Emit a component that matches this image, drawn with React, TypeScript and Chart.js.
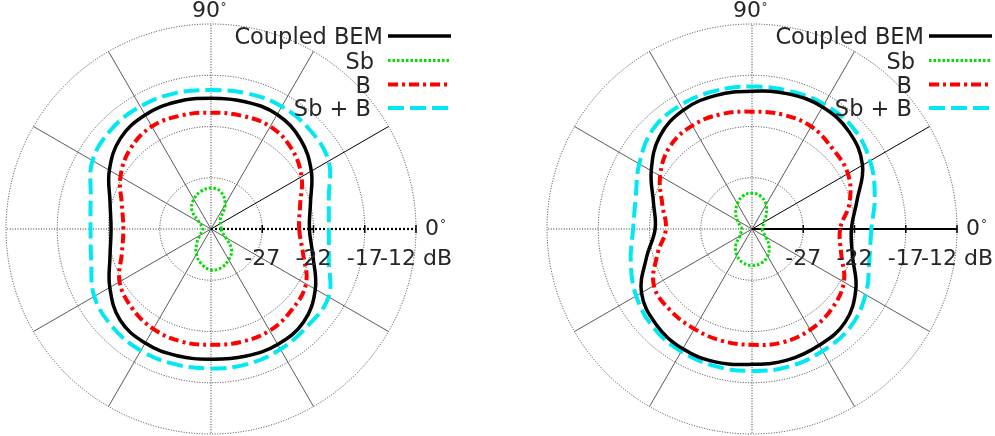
import React, { useEffect, useRef } from 'react';
import { Chart, registerables } from 'chart.js';

Chart.register(...registerables);

// Direction of each sample, degrees counter-clockwise from the 0° axis
const ANGLES = [0, 15, 30, 45, 60, 75, 90, 105, 120, 135, 150, 165, 180, 195, 210, 225, 240, 255, 270, 285, 300, 315, 330, 345];

// Radial axis (dB)
const R_MIN = -32;
const R_MAX = -12;
const R_STEP = 5;
const TICK_VALUES = [-27, -22, -17, -12];
const TICK_LABELS = ['-27', '-22', '-17', '-12 dB'];

const SERIES_NAMES = ['Coupled BEM', 'Sb', 'B', 'Sb + B'];

// Left plot
const LEFT_BEM = [-22.4, -21.95, -20.7, -19.65, -19.1, -19.15, -19.25, -19.15, -19.15, -19.5, -20.55, -21.8, -22.25, -21.8, -20.6, -19.45, -19.15, -19.2, -19.3, -19.15, -19.0, -19.2, -20.25, -21.7];
const LEFT_SB = [-31.0, -31.0, -30.95, -30.75, -29.25, -28.25, -28.0, -28.2, -28.65, -29.35, -30.65, -31.1, -31.2, -31.1, -30.75, -30.05, -29.15, -28.45, -28.0, -28.1, -28.55, -29.15, -30.35, -30.9];
const LEFT_B = [-23.4, -23.0, -21.8, -20.9, -20.45, -20.55, -20.65, -20.55, -20.45, -20.9, -21.8, -23.0, -23.45, -23.0, -21.7, -21.1, -20.75, -20.65, -20.7, -20.6, -20.55, -20.85, -21.3, -22.7];
const LEFT_SB_B = [-20.5, -20.1, -18.75, -18.35, -18.2, -18.3, -18.45, -18.3, -18.2, -18.25, -18.65, -19.85, -20.25, -19.9, -18.85, -18.45, -18.3, -18.35, -18.4, -18.35, -18.45, -18.65, -18.75, -20.1];

// Right plot
const RIGHT_BEM = [-22.3, -21.4, -19.55, -18.6, -18.25, -18.35, -18.55, -18.5, -18.6, -19.25, -20.65, -22.05, -22.55, -21.35, -19.55, -18.8, -18.5, -18.55, -18.8, -18.75, -18.9, -19.15, -20.3, -21.85];
const RIGHT_SB = [-31.0, -30.9, -30.65, -30.05, -29.25, -28.7, -28.5, -28.65, -29.15, -29.75, -30.35, -30.8, -31.0, -30.9, -30.65, -29.75, -29.05, -28.6, -28.45, -28.55, -28.95, -29.65, -30.45, -30.9];
const RIGHT_B = [-23.4, -22.15, -21.2, -20.9, -20.45, -20.45, -20.55, -20.4, -20.35, -20.65, -21.65, -22.95, -23.6, -22.45, -20.95, -20.75, -20.75, -20.7, -20.7, -20.55, -20.65, -21.0, -21.65, -23.0];
const RIGHT_SB_B = [-20.35, -19.6, -18.7, -18.05, -17.95, -18.05, -18.1, -18.05, -18.05, -18.3, -19.3, -20.25, -20.4, -19.75, -18.95, -18.4, -18.2, -18.15, -18.15, -18.1, -18.25, -18.45, -19.2, -20.15];

const FONT = '"DejaVu Sans", "Liberation Sans", sans-serif';
const TEXT_COLOR = '#262626';

const LINE_STYLES = [
  { color: '#000000', width: 3.5, dash: [] as number[] },
  { color: '#00dd00', width: 3, dash: [2.5, 2] },
  { color: '#ff0000', width: 4, dash: [10, 4, 3, 4] },
  { color: '#00e8f4', width: 4, dash: [16, 6] },
];

const CANVAS_H = 436;
const PAD_LEFT = 6;
const PAD_TOP = 24;
const PLOT_SIZE = 410;

// The radar scale runs clockwise from its first label, so walk the angles backwards
const ORDER = ANGLES.map((_, i) => (ANGLES.length - i) % ANGLES.length);

type PanelProps = { left: number; width: number; series: number[][]; solidAxis: boolean };

function PolarPanel({ left, width, series, solidAxis }: PanelProps) {
  const canvasRef = useRef<HTMLCanvasElement | null>(null);

  useEffect(() => {
    const canvas = canvasRef.current;
    if (!canvas) return;
    const labels = ORDER.map((k) => ANGLES[k]);

    const decor = {
      id: 'polarDecor',
      afterDraw(chart: any) {
        const s = chart.scales.r;
        const ctx = chart.ctx as CanvasRenderingContext2D;
        const cx = s.xCenter;
        const cy = s.yCenter;
        ctx.save();

        // tick marks on the 0° axis
        ctx.strokeStyle = '#000';
        ctx.lineWidth = 1.5;
        ctx.setLineDash([]);
        TICK_VALUES.forEach((v) => {
          const d = s.getDistanceFromCenterForValue(v);
          ctx.beginPath();
          ctx.moveTo(cx + d, cy - 4);
          ctx.lineTo(cx + d, cy + 4);
          ctx.stroke();
        });

        // radial tick labels under the 0° axis
        ctx.fillStyle = TEXT_COLOR;
        ctx.font = `22px ${FONT}`;
        ctx.textAlign = 'center';
        ctx.textBaseline = 'alphabetic';
        TICK_VALUES.forEach((v, i) => {
          const d = s.getDistanceFromCenterForValue(v);
          ctx.fillText(TICK_LABELS[i], cx + d, cy + 36);
        });

        // angle labels
        const outer = s.getDistanceFromCenterForValue(R_MAX);
        ctx.textAlign = 'right';
        ctx.fillText('90', cx + 9, cy - outer - 7);
        ctx.textAlign = 'left';
        ctx.fillText('0', cx + outer + 9, cy + 6);
        ctx.font = `12px ${FONT}`;
        ctx.fillText('°', cx + 9.5, cy - outer - 13);
        ctx.fillText('°', cx + outer + 24, cy - 1);

        // key
        const rows = [cy - 193, cy - 168.5, cy - 144.5, cy - 121];
        const textRight = [cx + 172, cx + 163, cx + 160, cx + 160];
        ctx.font = `22.5px ${FONT}`;
        ctx.textAlign = 'right';
        SERIES_NAMES.forEach((name, i) => {
          ctx.fillStyle = TEXT_COLOR;
          ctx.fillText(name, textRight[i], rows[i] + 8);
          const st = LINE_STYLES[i];
          ctx.strokeStyle = st.color;
          ctx.lineWidth = st.width;
          ctx.setLineDash(st.dash);
          ctx.beginPath();
          ctx.moveTo(cx + 177, rows[i]);
          ctx.lineTo(cx + 240, rows[i]);
          ctx.stroke();
        });
        ctx.restore();
      },
    };

    const chart = new Chart(canvas, {
      type: 'radar',
      data: {
        labels,
        datasets: series.map((vals, i) => ({
          label: SERIES_NAMES[i],
          data: ORDER.map((k) => vals[k]),
          borderColor: LINE_STYLES[i].color,
          borderWidth: LINE_STYLES[i].width,
          borderDash: LINE_STYLES[i].dash,
          backgroundColor: 'rgba(0,0,0,0)',
          fill: false,
          pointRadius: 0,
          pointHoverRadius: 0,
          tension: 0.4,
        })),
      },
      options: {
        responsive: false,
        animation: false,
        devicePixelRatio: 1,
        events: [],
        layout: {
          padding: { left: PAD_LEFT, top: PAD_TOP, right: width - PAD_LEFT - PLOT_SIZE, bottom: CANVAS_H - PAD_TOP - PLOT_SIZE },
        },
        plugins: { legend: { display: false }, tooltip: { enabled: false } },
        scales: {
          r: {
            min: R_MIN,
            max: R_MAX,
            startAngle: 90,
            ticks: { display: false, stepSize: R_STEP },
            pointLabels: { display: false },
            grid: { circular: true, color: '#3a3a3a', lineWidth: 1 },
            border: { dash: [1, 1.6] },
            angleLines: {
              display: true,
              color: (c: any) => {
                const a = labels[c.index];
                if (a % 30 !== 0) return 'rgba(0,0,0,0)';
                if (a === 0 || a === 30) return '#000000';
                if (a % 90 === 0) return '#333333';
                return '#5a5a5a';
              },
              lineWidth: (c: any) => {
                const a = labels[c.index];
                if (a % 30 !== 0) return 0;
                return a === 0 ? 2.2 : 1;
              },
              borderDash: (c: any) => {
                const a = labels[c.index];
                if (a === 0) return solidAxis ? [] : [2, 2];
                if (a % 90 === 0) return [1, 1.6];
                return [];
              },
            },
          },
        },
      },
      plugins: [decor],
    } as any);

    return () => chart.destroy();
  }, [series, width, solidAxis]);

  return (
    <canvas
      ref={canvasRef}
      width={width}
      height={CANVAS_H}
      style={{ position: 'absolute', left, top: 0, width, height: CANVAS_H }}
    />
  );
}

const LEFT_SERIES = [LEFT_BEM, LEFT_SB, LEFT_B, LEFT_SB_B];
const RIGHT_SERIES = [RIGHT_BEM, RIGHT_SB, RIGHT_B, RIGHT_SB_B];

export default function App() {
  return (
    <div style={{ position: 'absolute', left: 0, top: 0, width: 995, height: 436, background: '#ffffff', overflow: 'hidden' }}>
      <PolarPanel left={0} width={480} series={LEFT_SERIES} solidAxis={false} />
      <PolarPanel left={541} width={454} series={RIGHT_SERIES} solidAxis={true} />
    </div>
  );
}
